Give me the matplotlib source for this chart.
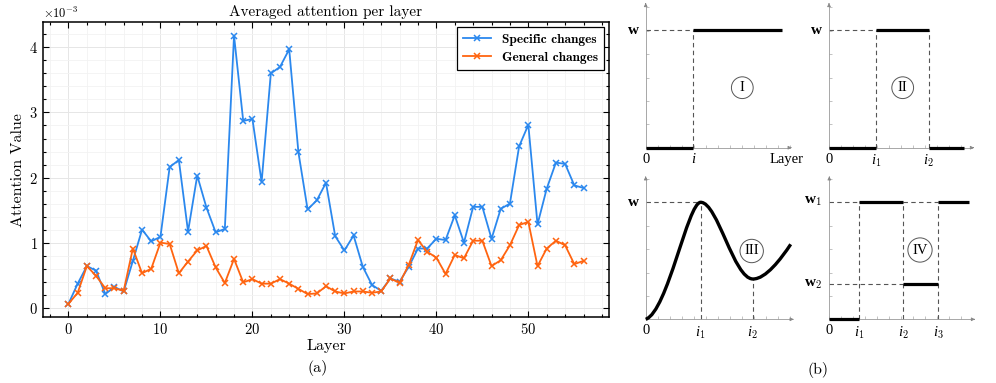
import matplotlib
matplotlib.use("Agg")
import matplotlib.pyplot as plt
from matplotlib.ticker import MultipleLocator, ScalarFormatter
from matplotlib.path import Path
from matplotlib.patches import PathPatch
import numpy as np

plt.rcParams["font.family"] = "serif"
plt.rcParams["font.serif"] = ["cmr10"]
plt.rcParams["mathtext.fontset"] = "cm"
plt.rcParams["axes.formatter.use_mathtext"] = True

# ---- data of panel (a), in units of 1e-3 ----
layers = list(range(57))
specific = [0.06, 0.37, 0.64, 0.57, 0.21, 0.32, 0.25, 0.72, 1.20, 1.02,
            1.09, 2.16, 2.27, 1.17, 2.03, 1.54, 1.16, 1.21, 4.18, 2.87,
            2.90, 1.93, 3.60, 3.70, 3.97, 2.39, 1.51, 1.65, 1.92, 1.10,
            0.88, 1.11, 0.63, 0.35, 0.26, 0.45, 0.40, 0.63, 0.91, 0.91,
            1.06, 1.04, 1.42, 1.00, 1.55, 1.55, 1.06, 1.52, 1.60, 2.48,
            2.81, 1.28, 1.83, 2.23, 2.21, 1.88, 1.84]
general = [0.06, 0.23, 0.64, 0.49, 0.30, 0.30, 0.26, 0.91, 0.53, 0.60,
           1.00, 0.98, 0.53, 0.71, 0.88, 0.95, 0.62, 0.38, 0.75, 0.39,
           0.44, 0.37, 0.37, 0.44, 0.37, 0.29, 0.21, 0.22, 0.33, 0.25,
           0.22, 0.25, 0.25, 0.23, 0.25, 0.45, 0.38, 0.66, 1.04, 0.86,
           0.77, 0.52, 0.81, 0.76, 1.03, 1.03, 0.64, 0.73, 0.96, 1.27,
           1.32, 0.64, 0.91, 1.03, 0.96, 0.67, 0.72]
series_names = ["Specific changes", "General changes"]
series_colors = ["#2b88ee", "#ff6410"]

# ---- schematic panels of (b), coordinates in pixels from each origin ----
p1_steps = [0, 47.6, 47.6, 136]
p1_levels = [0, 0, 117.7, 117.7]
p2_steps = [0, 47, 47, 100, 100, 135]
p2_levels = [0, 0, 117.7, 117.7, 0, 0]
# curve III: nodes (start, peak i1, dip i2, end) with bezier handles
p3_nodes = [(0, 0), (55, 117), (107.3, 40.3), (145, 75)]
p3_handles = [((22, 8), (42, 117)),
              ((72, 117), (88, 40.3)),
              ((120, 40.3), (135, 60))]
p4_x = [0, 29.7, 74, 109, 139.7]
p4_levels = [0, 117.6, 35.3, 117.6]


def style_main(ax):
    ax.set_xlim(-2.8, 58.8)
    ax.set_ylim(-0.147e-3, 4.39e-3)
    ax.xaxis.set_major_locator(MultipleLocator(10))
    ax.xaxis.set_minor_locator(MultipleLocator(2))
    ax.yaxis.set_major_locator(MultipleLocator(1e-3))
    ax.yaxis.set_minor_locator(MultipleLocator(0.2e-3))
    fmt = ScalarFormatter(useMathText=True)
    fmt.set_powerlimits((-2, 2))
    ax.yaxis.set_major_formatter(fmt)
    ax.tick_params(which="both", direction="in", top=True, right=True,
                   labelsize=10.5, width=0.8)
    ax.tick_params(which="major", length=4)
    ax.tick_params(which="minor", length=2.2)
    ax.yaxis.get_offset_text().set_fontsize(9)
    ax.grid(which="major", color="#e6e6e6", lw=0.7)
    ax.grid(which="minor", color="#f2f2f2", lw=0.6)
    ax.set_axisbelow(True)
    for s in ax.spines.values():
        s.set_linewidth(1.1)


def schematic_axes(fig, ox, oy, xmax, ymax):
    ax = fig.add_axes([ox / 996, (383 - oy) / 383, xmax / 996, ymax / 383])
    ax.set_xlim(0, xmax)
    ax.set_ylim(0, ymax)
    ax.patch.set_visible(False)
    for side in ["top", "right"]:
        ax.spines[side].set_visible(False)
    for side in ["left", "bottom"]:
        ax.spines[side].set_color("#999999")
        ax.spines[side].set_linewidth(0.6)
    ax.xaxis.set_major_locator(MultipleLocator(12))
    ax.yaxis.set_major_locator(MultipleLocator(23.4))
    ax.tick_params(direction="in", length=2, width=0.5, color="#aaaaaa",
                   labelbottom=False, labelleft=False)
    arrow = dict(arrowstyle="-|>", color="#888888", lw=0.6, mutation_scale=5)
    ax.annotate("", xy=(xmax + 2, 0), xytext=(xmax - 2, 0),
                arrowprops=arrow, annotation_clip=False)
    ax.annotate("", xy=(0, ymax + 2), xytext=(0, ymax - 2),
                arrowprops=arrow, annotation_clip=False)
    return ax


def dashed(ax, xs, ys):
    ax.plot(xs, ys, ls=(0, (4, 3)), color="#555555", lw=0.8, clip_on=False)


def thick(ax, xs, ys):
    ax.plot(xs, ys, color="black", lw=2.3, solid_capstyle="butt",
            clip_on=False, zorder=3)


def roman(ax, x, y, s):
    ax.text(x, y, s, ha="center", va="center", fontsize=10.5,
            family="Liberation Serif",
            bbox=dict(boxstyle="circle,pad=0.3", fc="white",
                      ec="#555555", lw=0.7))


def label(ax, x, y, s, **kw):
    ax.text(x, y, s, ha="center", va="top", fontsize=10.5,
            family="Liberation Serif", zorder=5, **kw)


def wlabel(ax, y, s):
    ax.text(-7, y, s, ha="right", va="center", fontsize=11,
            family="Liberation Serif", weight="bold")


def main():
    fig = plt.figure(figsize=(9.96, 3.83), dpi=100)

    # ---------------- panel (a) ----------------
    ax = fig.add_axes([0.0429, 0.1715, 0.5688, 0.7711])
    for vals, name, col in zip([specific, general], series_names,
                               series_colors):
        ax.plot(layers, np.array(vals) * 1e-3, color=col, lw=1.3,
                marker="x", markersize=5, mew=1.1, label=name)
    style_main(ax)
    ax.set_title("Averaged attention per layer", fontsize=11, pad=4)
    ax.set_xlabel("Layer", fontsize=11.5, labelpad=1)
    ax.set_ylabel("Attention Value", fontsize=11.5, labelpad=3)
    leg = ax.legend(loc="upper right", prop={"family": "cmb10", "size": 9.6},
                    fancybox=False, edgecolor="black", framealpha=1,
                    borderaxespad=0.4, handlelength=2.1, borderpad=0.45,
                    labelspacing=0.45)
    leg.get_frame().set_linewidth(0.9)
    fig.text(318 / 996, 1 - 368 / 383, "(a)", ha="center", va="center",
             fontsize=11.5)

    # ---------------- panel (b) ----------------
    # I
    a1 = schematic_axes(fig, 645.7, 147.7, 144, 142.7)
    thick(a1, p1_steps[:2], p1_levels[:2])
    thick(a1, p1_steps[2:], p1_levels[2:])
    dashed(a1, [0, p1_steps[1]], [p1_levels[2]] * 2)
    dashed(a1, [p1_steps[1]] * 2, [0, p1_levels[2]])
    roman(a1, 96.6, 60, "I")
    wlabel(a1, p1_levels[2], "w")
    label(a1, 0, -5, "0")
    label(a1, p1_steps[1], -5, "i", style="italic")
    label(a1, 141, -5, "Layer")

    # II
    a2 = schematic_axes(fig, 829, 147.7, 143, 142.7)
    thick(a2, p2_steps[:2], p2_levels[:2])
    thick(a2, p2_steps[2:4], p2_levels[2:4])
    thick(a2, p2_steps[4:], p2_levels[4:])
    dashed(a2, [0, p2_steps[1]], [p2_levels[2]] * 2)
    dashed(a2, [p2_steps[1]] * 2, [0, p2_levels[2]])
    dashed(a2, [p2_steps[3]] * 2, [0, p2_levels[2]])
    roman(a2, 73.7, 60, "II")
    wlabel(a2, p2_levels[2], "w")
    label(a2, 0, -5, "0")
    label(a2, p2_steps[1], -5, "i$_{\\mathit{1}}$", style="italic")
    label(a2, p2_steps[3], -5, "i$_{\\mathit{2}}$", style="italic")

    # III
    a3 = schematic_axes(fig, 645.7, 319.3, 146, 141)
    verts = [p3_nodes[0]]
    codes = [Path.MOVETO]
    for k, (h1, h2) in enumerate(p3_handles):
        verts += [h1, h2, p3_nodes[k + 1]]
        codes += [Path.CURVE4] * 3
    a3.add_patch(PathPatch(Path(verts, codes), fill=False, ec="black",
                           lw=2.4, clip_on=False, zorder=3))
    peak, dip = p3_nodes[1], p3_nodes[2]
    dashed(a3, [0, peak[0]], [peak[1]] * 2)
    dashed(a3, [peak[0]] * 2, [0, peak[1]])
    dashed(a3, [dip[0]] * 2, [0, dip[1]])
    roman(a3, 106, 68.3, "III")
    wlabel(a3, peak[1], "w")
    label(a3, 0, -5, "0")
    label(a3, peak[0], -5, "i$_{\\mathit{1}}$", style="italic")
    label(a3, dip[0], -5, "i$_{\\mathit{2}}$", style="italic")

    # IV
    a4 = schematic_axes(fig, 829.3, 319.3, 143.7, 141)
    for k in range(4):
        thick(a4, [p4_x[k], p4_x[k + 1]], [p4_levels[k]] * 2)
    dashed(a4, [0, p4_x[1]], [p4_levels[1]] * 2)
    dashed(a4, [p4_x[2], p4_x[3]], [p4_levels[1]] * 2)
    dashed(a4, [0, p4_x[2]], [p4_levels[2]] * 2)
    for k in range(1, 4):
        dashed(a4, [p4_x[k]] * 2, [0, p4_levels[1]])
    roman(a4, 90.7, 69.3, "IV")
    wlabel(a4, p4_levels[1], "w$_{\\mathrm{1}}$")
    wlabel(a4, p4_levels[2], "w$_{\\mathrm{2}}$")
    label(a4, 0, -5, "0")
    for k, s in zip(range(1, 4), ["1", "2", "3"]):
        label(a4, p4_x[k], -5, "i$_{\\mathit{" + s + "}}$", style="italic")

    fig.text(817.7 / 996, 1 - 370 / 383, "(b)", ha="center", va="center",
             fontsize=11.5)

    fig.savefig("out.png", dpi=100)


if __name__ == "__main__":
    main()
